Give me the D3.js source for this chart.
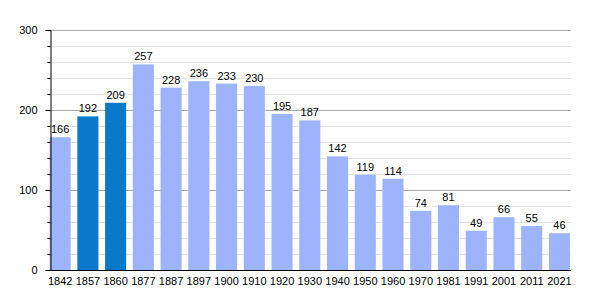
<!DOCTYPE html>
<html>
<head>
<meta charset="utf-8">
<script src="https://cdn.jsdelivr.net/npm/d3@7"></script>
<style>
  body { margin: 0; background: #fff; }
  text { font-family: "Liberation Sans", Arial, sans-serif; }
</style>
</head>
<body>
<div id="chart"></div>
<script>
(function () {

  // data
  const years = ["1842", "1857", "1860", "1877", "1887", "1897", "1900", "1910", "1920", "1930",
    "1940", "1950", "1960", "1970", "1981", "1991", "2001", "2011", "2021"];
  const population = [166, 192, 209, 257, 228, 236, 233, 230, 195, 187,
    142, 119, 114, 74, 81, 49, 66, 55, 46];
  const highlighted = ["1857", "1860"];
  const yTicks = [0, 100, 200, 300];

  // chart settings
  const svg_width = 600;
  const svg_height = 300;
  const left = 50, right = 571, top = 30, bottom = 270;

  const x = d3.scaleBand()
    .domain(years)
    .range([left - 0.4, right - 1])
    .paddingInner(0.24)
    .paddingOuter(0);
  const y = d3.scaleLinear()
    .domain([0, 300])
    .range([bottom, top]);

  const svg = d3.select("#chart").append("svg")
    .attr("width", svg_width)
    .attr("height", svg_height);

  const minor = d3.range(20, 301, 20).filter(v => v % 100 !== 0);

  // grid lines
  svg.append("g").selectAll("line")
    .data(minor)
    .enter().append("line")
    .attr("x1", left).attr("x2", right)
    .attr("y1", d => Math.round(y(d)) + 0.5)
    .attr("y2", d => Math.round(y(d)) + 0.5)
    .attr("stroke", "#e2e2e2");
  svg.append("g").selectAll("line")
    .data(yTicks.slice(1))
    .enter().append("line")
    .attr("x1", left).attr("x2", right)
    .attr("y1", d => Math.round(y(d)) + 0.5)
    .attr("y2", d => Math.round(y(d)) + 0.5)
    .attr("stroke", "#a8a8a8");

  // bars
  svg.selectAll(".bar")
    .data(years)
    .enter().append("rect")
    .attr("class", "bar")
    .attr("x", d => x(d))
    .attr("y", (d, i) => y(population[i]))
    .attr("width", x.bandwidth())
    .attr("height", (d, i) => bottom - y(population[i]))
    .attr("fill", d => highlighted.includes(d) ? "#0a79c9" : "#9db3fb");

  // value labels
  svg.selectAll(".val")
    .data(years)
    .enter().append("text")
    .attr("class", "val")
    .attr("x", d => x(d) + x.bandwidth() / 2)
    .attr("y", (d, i) => y(population[i]) - 4)
    .attr("text-anchor", "middle")
    .attr("font-size", 11)
    .attr("fill", "#000")
    .text((d, i) => population[i]);

  // y axis
  const yAxis = svg.append("g")
    .attr("transform", "translate(" + (left + 0.5) + ",0)")
    .call(d3.axisLeft(y).tickValues(yTicks).tickSize(5).tickPadding(8));
  yAxis.select(".domain").attr("stroke", "#000");
  yAxis.selectAll("text").attr("font-size", 11).attr("font-family", "Liberation Sans, Arial, sans-serif");
  svg.append("g")
    .attr("transform", "translate(" + (left + 0.5) + ",0)")
    .call(d3.axisLeft(y).tickValues(minor).tickSize(3).tickFormat(""))
    .select(".domain").remove();

  // x axis
  const xAxis = svg.append("g")
    .attr("transform", "translate(0," + (bottom + 0.5) + ")")
    .call(d3.axisBottom(x).tickSize(0).tickPadding(7));
  xAxis.select(".domain").attr("d", "M" + left + ",0H" + right).attr("stroke", "#000");
  xAxis.selectAll("text").attr("font-size", 11).attr("font-family", "Liberation Sans, Arial, sans-serif");

})();
</script>
</body>
</html>
